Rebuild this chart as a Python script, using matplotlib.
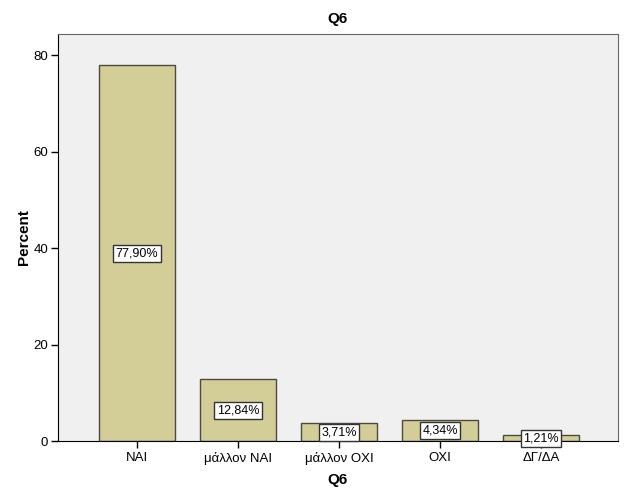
import matplotlib
matplotlib.use("Agg")
import matplotlib.pyplot as plt

categories = ["ΝΑΙ", "μάλλον ΝΑΙ", "μάλλον ΟΧΙ", "ΟΧΙ", "ΔΓ/ΔΑ"]
values = [77.90, 12.84, 3.71, 4.34, 1.21]
labels = ["77,90%", "12,84%", "3,71%", "4,34%", "1,21%"]
yticks = [0, 20, 40, 60, 80]

plt.rcParams['font.family'] = ['Liberation Sans', 'DejaVu Sans']

fig = plt.figure(figsize=(6.26, 5.01), dpi=100)
ax = fig.add_axes([58/626, 1-441/501, (618-58)/626, (441-34)/501])
ax.set_facecolor("#F0F0F0")

x = list(range(len(categories)))
ax.bar(x, values, width=0.75, color="#D3CE98", edgecolor="#4a4a3e", linewidth=1.0, zorder=2)
for xi, v, lab in zip(x, values, labels):
    ax.text(xi, v/2, lab, ha="center", va="center", fontsize=9, zorder=3,
            bbox=dict(boxstyle="square,pad=0.2", facecolor="white", edgecolor="#333333", linewidth=1.0))

ax.set_xlim(-0.78, 4.76)
ax.set_ylim(0, 84.4)
ax.set_yticks(yticks)
ax.set_xticks(x)
ax.set_xticklabels(categories, fontsize=9.5)
ax.tick_params(axis='y', labelsize=9.5, length=5, width=1, direction='out', pad=2)
ax.tick_params(axis='x', length=5, width=1, direction='out', pad=3)
for s in ['top', 'right']:
    ax.spines[s].set_color("#666666")
ax.spines['left'].set_color("black")
ax.spines['bottom'].set_color("black")

ax.set_title("Q6", fontsize=11, fontweight='bold', pad=8)
ax.set_xlabel("Q6", fontsize=11, fontweight='bold', labelpad=6)
ax.set_ylabel("Percent", fontsize=11, fontweight='bold', labelpad=2)

fig.savefig("out.png", dpi=100)
